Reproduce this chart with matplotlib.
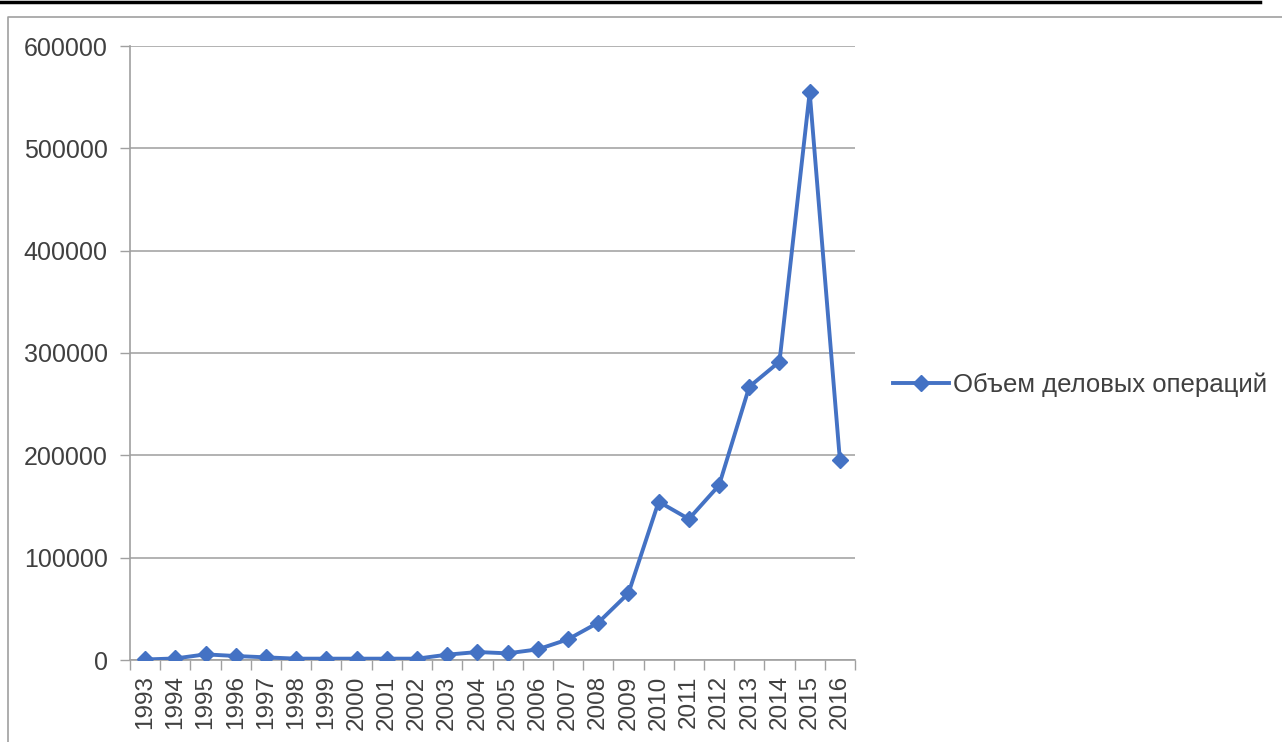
import numpy as np
import matplotlib
matplotlib.use("Agg")
import matplotlib.pyplot as plt
from matplotlib.lines import Line2D

years = [str(y) for y in range(1993, 2017)]
volume = [500, 1500, 5500, 3900, 2600, 1300, 1300, 1300, 1300, 1300,
          5200, 7800, 6500, 10400, 20200, 36500, 65200, 154700, 137800,
          170700, 267000, 291500, 554800, 195400]
series_name = "Объем деловых операций"
y_ticks = [0, 100000, 200000, 300000, 400000, 500000, 600000]

plt.rcParams['font.family'] = ['Liberation Sans', 'DejaVu Sans']

W, H = 1282, 742
fig = plt.figure(figsize=(W / 100, H / 100), dpi=100)

# page decoration: black rule on top and gray chart frame
fig.add_artist(Line2D([0, 1260 / W], [1 - 2 / H, 1 - 2 / H], color='black', lw=2.5,
                      transform=fig.transFigure))
fig.add_artist(Line2D([8 / W, 8 / W, 1.0], [0.0, 1 - 17 / H, 1 - 17 / H], color='#a0a0a0',
                      lw=1.2, transform=fig.transFigure))

ax = fig.add_axes([130 / W, 1 - 660 / H, 725 / W, 614 / H])
x = np.arange(len(years))
ax.plot(x, volume, color='#4472C4', lw=2.8, marker='D', markersize=8,
        label=series_name, zorder=3)

ax.set_xlim(-0.5, len(years) - 0.5)
ax.set_ylim(0, 600000)
ax.set_yticks(y_ticks)
ax.set_yticklabels([str(v) for v in y_ticks], fontsize=18, color='#404040')
ax.set_xticks(x)
ax.set_xticklabels(years, rotation=90, fontsize=17.5, color='#404040')
ax.set_xticks(np.arange(len(years) + 1) - 0.5, minor=True)
ax.tick_params(axis='x', which='major', length=0, pad=11)
ax.tick_params(axis='x', which='minor', length=7, color='#a0a0a0', width=1)
ax.tick_params(axis='y', length=7, color='#a0a0a0', width=1, pad=9)

ax.grid(axis='y', color='#a6a6a6', lw=1.2)
ax.set_axisbelow(True)
for s in ['top', 'right']:
    ax.spines[s].set_visible(False)
for s in ['left', 'bottom']:
    ax.spines[s].set_color('#a0a0a0')
    ax.spines[s].set_linewidth(1.2)

leg = ax.legend(loc='center left', bbox_to_anchor=(1.038, 0.448), frameon=False,
                fontsize=18.5, handlelength=2.2, handletextpad=0.15, borderaxespad=0)
for t in leg.get_texts():
    t.set_color('#404040')

fig.savefig('out.png', dpi=100)
